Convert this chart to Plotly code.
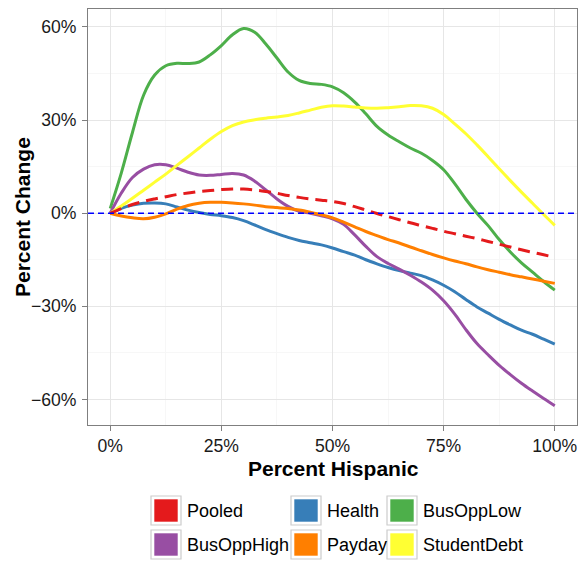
import plotly.graph_objects as go

# Share of Hispanic population (percent), common grid for all smoothed curves
x_pct = [0, 2.5, 5, 7.5, 10, 12.5, 15, 17.5, 20, 22.5, 25, 27.5, 30, 32.5, 35, 37.5,
         40, 42.5, 45, 47.5, 50, 52.5, 55, 57.5, 60, 62.5, 65, 67.5, 70, 72.5, 75,
         77.5, 80, 82.5, 85, 87.5, 90, 92.5, 95, 97.5, 100]

# Percent change by category
pooled = [0, 1.5, 2.8, 3.8, 4.6, 5.3, 6.0, 6.5, 7.0, 7.3, 7.6, 7.8, 7.8, 7.5, 7.0, 6.4,
          5.7, 5.1, 4.6, 4.2, 3.8, 3.1, 2.1, 1.0, -0.1, -1.1, -2.1, -3.1, -4.0, -4.9, -5.8,
          -6.6, -7.4, -8.2, -9.1, -10.0, -10.9, -11.8, -12.6, -13.4, -14.2]
health = [0, 1.6, 2.6, 3.2, 3.3, 3.0, 2.0, 1.0, 0.2, -0.4, -0.8, -1.4, -2.4, -3.8, -5.3, -6.6,
          -7.8, -8.8, -9.5, -10.2, -11.2, -12.4, -13.5, -15.0, -16.3, -17.5, -18.5, -19.3, -20.1, -21.5, -23.2,
          -25.3, -27.8, -30.2, -32.2, -34.2, -36.0, -37.7, -39.0, -40.6, -42.2]
bus_opp_low = [1.5, 13, 26, 38, 44.5, 47.5, 48.3, 48.2, 48.7, 51, 54, 57.5, 59.5, 58.3, 54.5, 50,
               45.5, 42.8, 41.8, 41.5, 40.7, 38.8, 35.8, 32, 28, 25.2, 23, 21, 19.3, 17, 14,
               9.5, 4.5, 0, -4, -8.5, -12.5, -16, -19, -22, -24.8]
bus_opp_high = [0, 6.5, 11.5, 14.2, 15.6, 15.6, 14.5, 13.2, 12.3, 12.2, 12.5, 12.8, 12.3, 10.3, 7.5, 4.6,
                2.2, 0.6, 0, -0.8, -1.8, -3.6, -7, -10.7, -14, -16.2, -18, -20, -22.2, -24.8, -28.2,
                -32.5, -37.5, -42, -45.6, -49, -52, -54.8, -57.3, -59.7, -62]
payday = [0, -0.9, -1.5, -1.8, -1.3, -0.2, 1.3, 2.5, 3.2, 3.5, 3.5, 3.3, 3.0, 2.6, 2.1, 1.8,
          1.5, 1.0, 0.3, -0.5, -1.5, -2.9, -4.4, -5.9, -7.2, -8.5, -9.6, -10.9, -12.1, -13.3, -14.4,
          -15.4, -16.3, -17.3, -18.2, -19.0, -19.8, -20.5, -21.2, -21.9, -22.6]
student_debt = [0, 2.3, 4.8, 7.4, 10, 12.6, 15.4, 18.2, 21, 23.8, 26.3, 28.2, 29.4, 30.1, 30.6, 31,
                31.5, 32.3, 33.2, 34.1, 34.6, 34.5, 34.2, 33.9, 33.8, 34, 34.3, 34.7, 34.6, 33.8, 31.8,
                28.8, 25.6, 22, 18.2, 14.3, 10.5, 6.8, 3.2, -0.4, -3.9]

x_ticks = [0, 0.25, 0.5, 0.75, 1.0]
y_ticks = [-0.6, -0.3, 0, 0.3, 0.6]

series = {
    "Pooled": (pooled, "#E41A1C"),
    "Health": (health, "#377EB8"),
    "BusOppLow": (bus_opp_low, "#4DAF4A"),
    "BusOppHigh": (bus_opp_high, "#984EA3"),
    "Payday": (payday, "#FF7F00"),
    "StudentDebt": (student_debt, "#FFFF33"),
}
draw_order = ["Health", "BusOppLow", "BusOppHigh", "Payday", "StudentDebt", "Pooled"]
legend_rows = [["Pooled", "Health", "BusOppLow"],
               ["BusOppHigh", "Payday", "StudentDebt"]]

FONT = "Liberation Sans, Arial, Helvetica, sans-serif"
W, H = 587, 562
ML, MR, MT, MB = 88, 10, 9, 137
PW, PH = W - ML - MR, H - MT - MB

xs = [v / 100 for v in x_pct]

fig = go.Figure()
for name in draw_order:
    vals, col = series[name]
    fig.add_trace(go.Scatter(
        x=xs, y=[v / 100 for v in vals], mode="lines", name=name,
        line=dict(color=col, width=3, shape="spline", smoothing=1.0,
                  dash="12px,7px" if name == "Pooled" else "solid"),
        showlegend=False, hoverinfo="skip",
    ))


def px_to_paper(px, py):
    return (px - ML) / PW, (MT + PH - py) / PH


shapes = [
    # reference line at zero change
    dict(type="line", xref="paper", yref="y", x0=0, x1=1, y0=0, y1=0,
         line=dict(color="#0000FF", width=1.5, dash="6px,4px"), layer="above"),
]
annotations = []

# Legend drawn as filled keys with labels, arranged in two rows of three
col_x = [151, 291, 387]
row_y = [496, 530]
key_w, key_h, inset = 30, 29, 3
for r, row in enumerate(legend_rows):
    for c, name in enumerate(row):
        col = series[name][1]
        x0, y0 = col_x[c], row_y[r]
        a0, b1 = px_to_paper(x0, y0)
        a1, b0 = px_to_paper(x0 + key_w, y0 + key_h)
        shapes.append(dict(type="rect", xref="paper", yref="paper", x0=a0, x1=a1, y0=b0, y1=b1,
                           fillcolor="white", line=dict(color="#CCCCCC", width=1.2), layer="above"))
        c0, d1 = px_to_paper(x0 + inset, y0 + inset)
        c1, d0 = px_to_paper(x0 + key_w - inset, y0 + key_h - inset)
        shapes.append(dict(type="rect", xref="paper", yref="paper", x0=c0, x1=c1, y0=d0, y1=d1,
                           fillcolor=col, line=dict(color="rgba(255,255,255,0.6)", width=1), layer="above"))
        tx, ty = px_to_paper(x0 + key_w + 4, y0 + key_h / 2)
        annotations.append(dict(text=name, x=tx, y=ty, xref="paper", yref="paper",
                                xanchor="left", yanchor="middle", showarrow=False,
                                font=dict(family=FONT, size=18, color="black")))

# Axis titles
tx, ty = px_to_paper(333, 468)
annotations.append(dict(text="<b>Percent Hispanic</b>", x=tx, y=ty, xref="paper", yref="paper",
                        xanchor="center", yanchor="middle", showarrow=False,
                        font=dict(family=FONT, size=21, color="black")))
tx, ty = px_to_paper(22, 217)
annotations.append(dict(text="<b>Percent Change</b>", x=tx, y=ty, xref="paper", yref="paper",
                        xanchor="center", yanchor="middle", showarrow=False, textangle=-90,
                        font=dict(family=FONT, size=21, color="black")))

axis_common = dict(
    showline=True, linecolor="#7F7F7F", linewidth=1, mirror=True,
    ticks="outside", ticklen=5, tickcolor="#7F7F7F", tickwidth=1,
    showgrid=True, gridcolor="#E6E6E6", gridwidth=1,
    zeroline=False, tickformat=".0%",
    tickfont=dict(family=FONT, size=17.6, color="#1A1A1A"),
)

fig.update_layout(
    width=W, height=H,
    margin=dict(l=ML, r=MR, t=MT, b=MB, pad=0),
    paper_bgcolor="white", plot_bgcolor="white",
    xaxis=dict(range=[-0.05, 1.05], tickvals=x_ticks,
               minor=dict(dtick=0.125, tick0=0, showgrid=True, gridcolor="#F7F7F7", ticklen=0),
               **axis_common),
    yaxis=dict(range=[-0.6823, 0.6578], tickvals=y_ticks, ticklabelstandoff=2,
               minor=dict(dtick=0.15, tick0=0, showgrid=True, gridcolor="#F7F7F7", ticklen=0),
               **axis_common),
    shapes=shapes, annotations=annotations,
    showlegend=False,
)

fig.write_html("out.html")
